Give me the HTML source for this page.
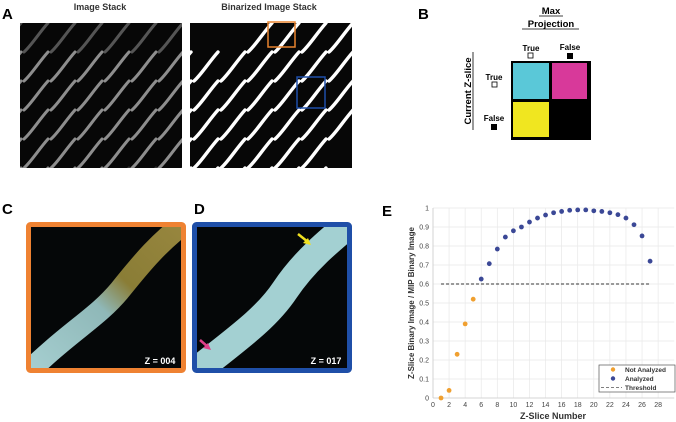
<!DOCTYPE html>
<html><head><meta charset="utf-8"><style>
html,body{margin:0;padding:0;background:#fff;}
svg{display:block;font-family:"Liberation Sans",Arial,sans-serif;}
</style></head><body>
<svg id="fig" width="676" height="422" viewBox="0 0 676 422">
<defs>
<clipPath id="clipA1"><rect x="20" y="23" width="162" height="145"/></clipPath>
<clipPath id="clipA2"><rect x="190" y="23" width="162" height="145"/></clipPath>
<clipPath id="clipC"><rect x="31" y="227" width="150" height="141"/></clipPath>
<clipPath id="clipD"><rect x="197" y="227" width="150" height="141"/></clipPath>
<linearGradient id="gC" x1="0" y1="1" x2="1" y2="0"><stop offset="0" stop-color="#a9d2d4"/><stop offset="0.45" stop-color="#8fb8b8"/><stop offset="0.6" stop-color="#8a7d36"/><stop offset="1" stop-color="#9a8840"/></linearGradient>
</defs>
<!-- Panel A -->
<g>
<text x="2" y="19" font-size="15" font-weight="bold">A</text>
<text x="100" y="10" font-size="9" font-weight="bold" fill="#333" text-anchor="middle">Image Stack</text>
<text x="269" y="10" font-size="9" font-weight="bold" fill="#333" text-anchor="middle">Binarized Image Stack</text>
<rect x="20" y="23" width="162" height="145" fill="#070707"/>
<rect x="190" y="23" width="162" height="145" fill="#070707"/>
<g id="stripes1" clip-path="url(#clipA1)"></g>
<g id="stripes2" clip-path="url(#clipA2)"></g>
<rect x="268" y="22" width="27" height="25" fill="none" stroke="#e8832e" stroke-width="1.5"/>
<rect x="297" y="77" width="28" height="31" fill="none" stroke="#1f4fa8" stroke-width="1.5"/>
</g>
<!-- Panel B -->
<g>
<text x="418" y="19" font-size="15" font-weight="bold">B</text>
<text x="551" y="14" font-size="9.5" font-weight="bold" text-anchor="middle">Max</text>
<line x1="539" y1="16" x2="563" y2="16" stroke="#000" stroke-width="0.8"/>
<text x="551" y="27" font-size="9.5" font-weight="bold" text-anchor="middle">Projection</text>
<line x1="522" y1="29" x2="579" y2="29" stroke="#000" stroke-width="0.8"/>
<text x="531" y="51" font-size="8" font-weight="bold" text-anchor="middle">True</text>
<rect x="528" y="53" width="5" height="5" fill="#fff" stroke="#000" stroke-width="0.8"/>
<text x="570" y="50" font-size="8" font-weight="bold" text-anchor="middle">False</text>
<rect x="567" y="53" width="6" height="6" fill="#000"/>
<text x="494" y="80" font-size="8" font-weight="bold" text-anchor="middle">True</text>
<rect x="492" y="82" width="5" height="5" fill="#fff" stroke="#000" stroke-width="0.8"/>
<text x="494" y="121" font-size="8" font-weight="bold" text-anchor="middle">False</text>
<rect x="491" y="124" width="6" height="6" fill="#000"/>
<text transform="translate(471,91) rotate(-90)" font-size="9.5" font-weight="bold" text-anchor="middle">Current Z-slice</text>
<line x1="473" y1="52" x2="473" y2="130" stroke="#000" stroke-width="0.8"/>
<rect x="511" y="61" width="80" height="79" fill="#000"/>
<rect x="513" y="63" width="36" height="36" fill="#5ac8d8"/>
<rect x="552" y="63" width="35" height="36" fill="#d8399a"/>
<rect x="513" y="102" width="36" height="35" fill="#f0e620"/>
</g>
<!-- Panel C -->
<g>
<text x="2" y="214" font-size="15" font-weight="bold">C</text>
<rect x="28.5" y="224.5" width="155" height="146" fill="#050708" stroke="#ef8232" stroke-width="5" rx="2"/>
<g clip-path="url(#clipC)">
<path d="M20,380 C70,330 95,320 120,290 C140,265 160,240 195,215" stroke="url(#gC)" stroke-width="22" fill="none"/>
</g>
<text x="160" y="364" font-size="9" font-weight="bold" fill="#fff" text-anchor="middle">Z = 004</text>
</g>
<!-- Panel D -->
<g>
<text x="194" y="214" font-size="15" font-weight="bold">D</text>
<rect x="194.5" y="224.5" width="155" height="146" fill="#050708" stroke="#1f4fa8" stroke-width="5" rx="2"/>
<g clip-path="url(#clipD)">
<path d="M185,380 C235,340 265,320 285,290 C305,260 330,240 360,215" stroke="#a3d0d2" stroke-width="28" fill="none"/>
</g>
<line x1="298" y1="234" x2="308" y2="242" stroke="#f0e020" stroke-width="2.5"/>
<polygon points="311,245 303,243 308,238" fill="#f0e020"/>
<line x1="200" y1="340" x2="208" y2="347" stroke="#e0408a" stroke-width="2.5"/>
<polygon points="211,350 203,348 208,343" fill="#e0408a"/>
<text x="326" y="364" font-size="9" font-weight="bold" fill="#fff" text-anchor="middle">Z = 017</text>
</g>
<!-- Panel E -->
<g id="chartE">
<text x="382" y="216" font-size="15" font-weight="bold">E</text>
</g>
</svg>
<script>
// Chart data
var sliceNumbers = [1,2,3,4,5,6,7,8,9,10,11,12,13,14,15,16,17,18,19,20,21,22,23,24,25,26,27];
var ratioValues = [0.00,0.04,0.23,0.39,0.52,0.626,0.707,0.784,0.847,0.88,0.90,0.926,0.947,0.963,0.975,0.982,0.988,0.99,0.99,0.985,0.982,0.975,0.965,0.947,0.912,0.853,0.72];
var thresholdValue = [0.6];
var xTickLabels = [0,2,4,6,8,10,12,14,16,18,20,22,24,26,28];
var yTickLabels = [0,0.1,0.2,0.3,0.4,0.5,0.6,0.7,0.8,0.9,1];

var NS = "http://www.w3.org/2000/svg";
function mk(tag, attrs, parent){var e=document.createElementNS(NS,tag);for(var k in attrs)e.setAttribute(k,attrs[k]);parent.appendChild(e);return e;}

// stripes for panel A (decorative)
(function(){
  var g1=document.getElementById('stripes1'), g2=document.getElementById('stripes2');
  for(var r=0;r<6;r++){
    for(var c=-2;c<7;c++){
      var x0=20+c*27+4, y0=23+r*29+29;
      var skip2 = (r>=4 && c>=5) || (r==0 && c<2);
      var gray = (r==0)?'#555':'#8e8e8e';
      if(r==5 && c>=3) gray='#333';
      mk('path',{d:'M'+x0+','+y0+' c7,-6 15,-19 24,-29',stroke:gray,'stroke-width':3,fill:'none','stroke-linecap':'round'},g1);
      if(!skip2) mk('path',{d:'M'+(x0+170)+','+y0+' c7,-6 15,-19 24,-29',stroke:'#fff','stroke-width':3.4,fill:'none','stroke-linecap':'round'},g2);
    }
  }
})();

var g=document.getElementById('chartE');
var X0=433, XS=8.04, Y0=398, YS=190;
function xs(v){return X0+v*XS;}
function ys(v){return Y0-v*YS;}
var xMax=30;
mk('rect',{x:xs(0),y:ys(1),width:xs(xMax)-xs(0),height:ys(0)-ys(1),fill:'#fff'},g);
xTickLabels.forEach(function(t){
  var l=mk('line',{x1:xs(t),x2:xs(t),y1:ys(0),y2:ys(1),stroke:'#e8e8e8','stroke-width':0.7},g);
  
  
  var tx=mk('text',{x:xs(t),y:407,'font-size':7,fill:'#444','text-anchor':'middle'},g);
  tx.textContent=t;
  
  
});
yTickLabels.forEach(function(t){
  var l=mk('line',{x1:xs(0),x2:xs(xMax),y1:ys(t),y2:ys(t),stroke:'#e8e8e8','stroke-width':0.7},g);
  
  
  var tx=mk('text',{x:xs(0)-4,y:ys(t)+2.5,'font-size':7,fill:'#444','text-anchor':'end'},g);
  tx.textContent=t;
  
  
});
var ax=mk('line',{x1:xs(0),x2:xs(0),y1:ys(0),y2:ys(1),stroke:'#ccc','stroke-width':0.8},g);


var ax2=mk('line',{x1:xs(0),x2:xs(xMax),y1:ys(0),y2:ys(0),stroke:'#ccc','stroke-width':0.8},g);


var th=mk('line',{x1:xs(sliceNumbers[0]),x2:xs(sliceNumbers[sliceNumbers.length-1]),y1:ys(thresholdValue[0]),y2:ys(thresholdValue[0]),stroke:'#333','stroke-width':0.9,'stroke-dasharray':'3,2'},g);


sliceNumbers.forEach(function(s,i){
  var v=ratioValues[i];
  var c=mk('circle',{cx:xs(s),cy:ys(v),r:2.4,fill:v<thresholdValue[0]?'#f0a030':'#3b4896'},g);
  
  
});
var yt=mk('text',{transform:'translate(414,303) rotate(-90)','font-size':8,'font-weight':'bold',fill:'#333','text-anchor':'middle'},g);
yt.textContent='Z-Slice Binary Image / MIP Binary Image';


var xt=mk('text',{x:553,y:419,'font-size':9,'font-weight':'bold',fill:'#333','text-anchor':'middle'},g);
xt.textContent='Z-Slice Number';


var lg=mk('g',{},g);


mk('rect',{x:599,y:365,width:76,height:27,fill:'#fff',stroke:'#555','stroke-width':0.7},lg);
mk('circle',{cx:613,cy:369.5,r:2.2,fill:'#f0a030'},lg);
mk('circle',{cx:613,cy:378.5,r:2.2,fill:'#3b4896'},lg);
mk('line',{x1:601,x2:622,y1:387.5,y2:387.5,stroke:'#555','stroke-width':0.8,'stroke-dasharray':'3,2'},lg);
[['Not Analyzed',372],['Analyzed',381],['Threshold',390]].forEach(function(e){
  var t=mk('text',{x:625,y:e[1],'font-size':6.5,'font-weight':'bold',fill:'#333'},lg);
  t.textContent=e[0];
  
  
});
</script>
</body></html>
